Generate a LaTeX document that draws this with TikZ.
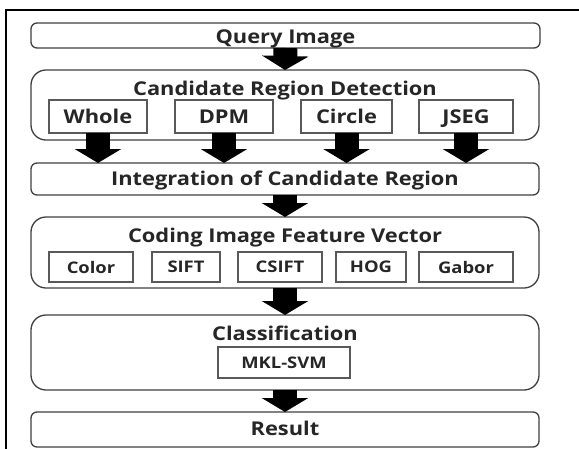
\documentclass[tikz,border=0pt]{standalone}
\usepackage{fontspec}
\setmainfont{Open Sans}[FakeStretch=1.15]
\usetikzlibrary{arrows.meta}
\begin{document}
\begin{tikzpicture}[x=1pt,y=-1pt,
  every node/.style={inner sep=0pt,outer sep=0pt},
  bigbox/.style={draw=black!75,line width=1.3pt,rounded corners=#1,fill=white},
  bigbox/.default=6pt,
  subbox/.style={draw=black!65,line width=1.3pt,fill=white},
  ttl/.style={anchor=base,font=\fontsize{19}{22}\selectfont\bfseries,text=black!85},
  subl/.style={font=\fontsize{19}{22}\selectfont\bfseries,text=black!85,text height=13.6pt,text depth=-1.5pt},
  smal/.style={font=\fontsize{16}{19}\selectfont\bfseries,text=black!85},
  blk/.style={line width=24pt,-{Triangle[width=46pt,length=14pt]},black}
]
\useasboundingbox (0,0) rectangle (579,448);
\clip (0,0) rectangle (579,448);
\draw[line width=1.5pt] (6,460) -- (6,10) -- (590,10);

\node[bigbox,minimum width=509pt,minimum height=25pt] (query) at (285.5,35.5) {};
\node[ttl] (queryt) at (285.5,43) {Query Image};

\node[bigbox=15pt,minimum width=508pt,minimum height=70pt] (cand) at (285,105) {};
\node[ttl] (candt) at (285,95) {Candidate Region Detection};
\node[subbox,subl,minimum width=98pt,minimum height=33pt] (whole) at (98,116.5) {Whole};
\node[subbox,subl,minimum width=98pt,minimum height=33pt] (dpm) at (224,116.5) {DPM};
\node[subbox,subl,minimum width=91pt,minimum height=33pt] (circle) at (346.5,116.5) {Circle};
\node[subbox,subl,minimum width=94pt,minimum height=33pt] (jseg) at (466,116.5) {JSEG};

\node[bigbox,minimum width=508pt,minimum height=32pt] (integ) at (285,179) {};
\node[ttl] (integt) at (285,185) {Integration of Candidate Region};

\node[bigbox=15pt,minimum width=508pt,minimum height=71pt] (coding) at (285,252.5) {};
\node[ttl] (codingt) at (285,242) {Coding Image Feature Vector};
\node[subbox,smal,minimum width=84pt,minimum height=30pt] (color) at (91,267) {Color};
\node[subbox,smal,minimum width=68pt,minimum height=30pt] (sift) at (186,267) {SIFT};
\node[subbox,smal,minimum width=84pt,minimum height=30pt] (csift) at (280,267) {CSIFT};
\node[subbox,smal,minimum width=70pt,minimum height=30pt] (hog) at (371,267) {HOG};
\node[subbox,smal,minimum width=94pt,minimum height=30pt] (gabor) at (466,267) {Gabor};

\node[bigbox=15pt,minimum width=508pt,minimum height=75pt] (class) at (285,352.5) {};
\node[ttl] (classt) at (285,340) {Classification};
\node[subbox,smal,minimum width=132pt,minimum height=31pt] (mkl) at (284,362.5) {MKL-SVM};

\node[bigbox,minimum width=508pt,minimum height=35pt] (result) at (285,429.5) {};
\node[ttl] (resultt) at (285,435) {Result};

\draw[blk] (query.south) -- (cand.north);
\draw[blk] (whole.south) -- (whole.south |- integ.north);
\draw[blk] (dpm.south) -- (dpm.south |- integ.north);
\draw[blk] (circle.south) -- (circle.south |- integ.north);
\draw[blk] (jseg.south) -- (jseg.south |- integ.north);
\draw[blk] (integ.south) -- (coding.north);
\draw[blk] (coding.south) -- (class.north);
\draw[blk] (class.south) -- (result.north);
\end{tikzpicture}
\end{document}
